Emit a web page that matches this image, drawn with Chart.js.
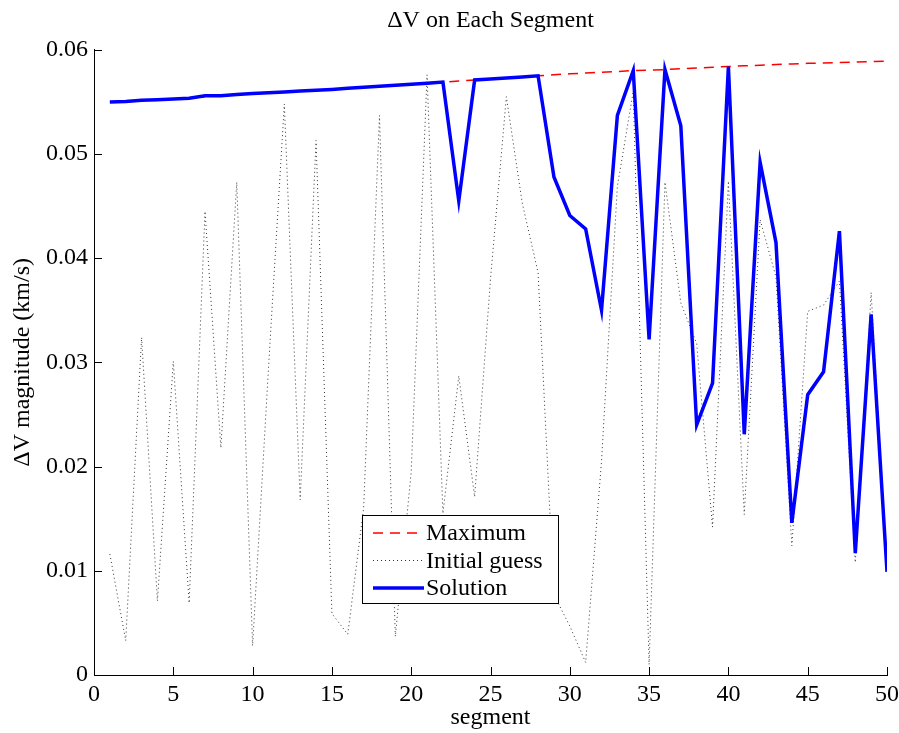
<!DOCTYPE html>
<html lang="en">
<head>
<meta charset="UTF-8">
<title>ΔV on Each Segment</title>
<style>
  html, body { margin: 0; padding: 0; background: #fff; }
  #wrap { width: 899px; height: 733px; }
</style>
</head>
<body>
<div id="wrap"><canvas id="dv-chart" width="899" height="733"></canvas></div>
<script src="https://cdn.jsdelivr.net/npm/chart.js"></script>
<script>
// segment index
const segments = [
   1,  2,  3,  4,  5,  6,  7,  8,  9, 10,
  11, 12, 13, 14, 15, 16, 17, 18, 19, 20,
  21, 22, 23, 24, 25, 26, 27, 28, 29, 30,
  31, 32, 33, 34, 35, 36, 37, 38, 39, 40,
  41, 42, 43, 44, 45, 46, 47, 48, 49, 50
];

// maximum dV per segment (km/s)
const maxDv = [
  0.05500, 0.05508, 0.05515, 0.05523, 0.05530, 0.05540, 0.05550, 0.05560, 0.05570, 0.05580,
  0.05588, 0.05596, 0.05604, 0.05612, 0.05620, 0.05630, 0.05640, 0.05650, 0.05660, 0.05670,
  0.05680, 0.05690, 0.05700, 0.05710, 0.05720, 0.05730, 0.05740, 0.05750, 0.05760, 0.05770,
  0.05777, 0.05785, 0.05792, 0.05800, 0.05805, 0.05810, 0.05818, 0.05825, 0.05833, 0.05840,
  0.05846, 0.05852, 0.05858, 0.05864, 0.05870, 0.05874, 0.05878, 0.05882, 0.05886, 0.05890
];

// initial guess (dotted)
const guessDv = [
  0.0116, 0.0033, 0.0324, 0.0071, 0.0301, 0.0069, 0.0445, 0.0218, 0.0473, 0.0028,
  0.0294, 0.0548, 0.0168, 0.0513, 0.0059, 0.0039, 0.0160, 0.0537, 0.0037, 0.0195,
  0.0576, 0.0155, 0.0287, 0.0171, 0.0380, 0.0555, 0.0453, 0.0386, 0.0077, 0.0047,
  0.0012, 0.0205, 0.0469, 0.0560, 0.0010, 0.0473, 0.0357, 0.0318, 0.0142, 0.0474,
  0.0154, 0.0437, 0.0382, 0.0124, 0.0349, 0.0355, 0.0378, 0.0108, 0.0367, 0.0100
];

// optimised solution
const solutionDv = [
  0.05500, 0.05505, 0.05515, 0.05520, 0.05528, 0.05535, 0.05558, 0.05560, 0.05570, 0.05580,
  0.05588, 0.05596, 0.05604, 0.05612, 0.05620, 0.05630, 0.05640, 0.05650, 0.05660, 0.05670,
  0.05680, 0.05690, 0.0455,  0.0571,  0.0572,  0.0573,  0.0574,  0.0575,  0.0478,  0.0441,
  0.0428,  0.0350,  0.0537,  0.0580,  0.0322,  0.0581,  0.0527,  0.0240,  0.0280,  0.0584,
  0.0231,  0.0492,  0.0415,  0.0146,  0.0269,  0.0291,  0.0426,  0.0117,  0.0346,  0.0099
];

const xTicks = [0, 5, 10, 15, 20, 25, 30, 35, 40, 45, 50];
const yTicks = [0, 0.01, 0.02, 0.03, 0.04, 0.05, 0.06];

const serif = "'Liberation Serif', 'DejaVu Serif', serif";
const toPoints = vals => segments.map((s, i) => ({ x: s, y: vals[i] }));

// MATLAB style: ticks point into the plot
const inwardTicks = {
  id: 'inwardTicks',
  afterDatasetsDraw(chart) {
    const { ctx, chartArea, scales: { x, y } } = chart;
    ctx.save();
    ctx.strokeStyle = '#000';
    ctx.lineWidth = 1;
    ctx.beginPath();
    x.ticks.forEach(t => {
      const px = Math.round(x.getPixelForValue(t.value)) + 0.5;
      ctx.moveTo(px, chartArea.bottom);
      ctx.lineTo(px, chartArea.bottom - 8);
    });
    y.ticks.forEach(t => {
      const py = Math.round(y.getPixelForValue(t.value)) + 0.5;
      ctx.moveTo(chartArea.left, py);
      ctx.lineTo(chartArea.left + 8, py);
    });
    ctx.stroke();
    ctx.restore();
  }
};

// boxed legend sitting inside the axes
const boxLegend = {
  id: 'boxLegend',
  afterDraw(chart) {
    const { ctx } = chart;
    const left = 362, top = 515, w = 196, h = 88, rowH = 27.5;
    ctx.save();
    ctx.fillStyle = '#fff';
    ctx.fillRect(left, top, w, h);
    ctx.strokeStyle = '#000';
    ctx.lineWidth = 1;
    ctx.strokeRect(left + 0.5, top + 0.5, w, h);
    ctx.font = '24px ' + serif;
    ctx.textBaseline = 'middle';
    chart.data.datasets.forEach((ds, i) => {
      const cy = top + 18 + i * rowH;
      ctx.beginPath();
      ctx.strokeStyle = ds.borderColor;
      ctx.lineWidth = ds.borderWidth;
      ctx.setLineDash(ds.borderDash || []);
      ctx.moveTo(left + 11, cy);
      ctx.lineTo(left + 62, cy);
      ctx.stroke();
      ctx.setLineDash([]);
      ctx.fillStyle = '#000';
      ctx.fillText(ds.label, left + 64, cy + 1);
    });
    ctx.restore();
  }
};

new Chart(document.getElementById('dv-chart'), {
  type: 'line',
  data: {
    datasets: [
      {
        label: 'Maximum',
        data: toPoints(maxDv),
        borderColor: '#ff0000',
        borderWidth: 1.5,
        borderDash: [10, 7],
        pointRadius: 0,
        order: 1
      },
      {
        label: 'Initial guess',
        data: toPoints(guessDv),
        borderColor: '#333333',
        borderWidth: 1,
        borderDash: [1, 3],
        pointRadius: 0,
        order: 2
      },
      {
        label: 'Solution',
        data: toPoints(solutionDv),
        borderColor: '#0000ff',
        borderWidth: 3.5,
        pointRadius: 0,
        order: 0
      }
    ]
  },
  options: {
    responsive: false,
    animation: false,
    devicePixelRatio: 1,
    layout: { padding: { left: 0, right: 12, top: 0, bottom: 0 } },
    plugins: {
      legend: { display: false },
      tooltip: { enabled: false },
      title: {
        display: true,
        text: 'ΔV on Each Segment',
        fullSize: false,
        color: '#000',
        font: { family: serif, size: 24, weight: 'normal' },
        padding: { top: 6, bottom: 15 }
      }
    },
    scales: {
      x: {
        type: 'linear',
        min: 0,
        max: 50,
        afterFit: s => { s.height = 58; s.paddingLeft = 0; s.paddingRight = 0; },
        afterBuildTicks: s => { s.ticks = xTicks.map(v => ({ value: v })); },
        grid: { display: false, drawTicks: false, tickLength: 0 },
        border: { display: true, color: '#000', width: 1 },
        ticks: {
          color: '#000',
          padding: 5,
          maxRotation: 0,
          font: { family: serif, size: 24 }
        },
        title: {
          display: true,
          text: 'segment',
          color: '#000',
          font: { family: serif, size: 24 },
          padding: { top: 0, bottom: 1 }
        }
      },
      y: {
        min: 0,
        max: 0.06,
        afterFit: s => { s.width = 94; s.paddingTop = 0; s.paddingBottom = 0; },
        afterBuildTicks: s => { s.ticks = yTicks.map(v => ({ value: v })); },
        grid: { display: false, drawTicks: false, tickLength: 0 },
        border: { display: true, color: '#000', width: 1 },
        ticks: {
          color: '#000',
          padding: 6,
          font: { family: serif, size: 24 },
          callback: v => v === 0 ? '0' : v.toFixed(2)
        },
        title: {
          display: true,
          text: 'ΔV magnitude (km/s)',
          color: '#000',
          font: { family: serif, size: 24 },
          padding: { top: 8, bottom: 0 }
        }
      }
    }
  },
  plugins: [inwardTicks, boxLegend]
});
</script>
</body>
</html>
